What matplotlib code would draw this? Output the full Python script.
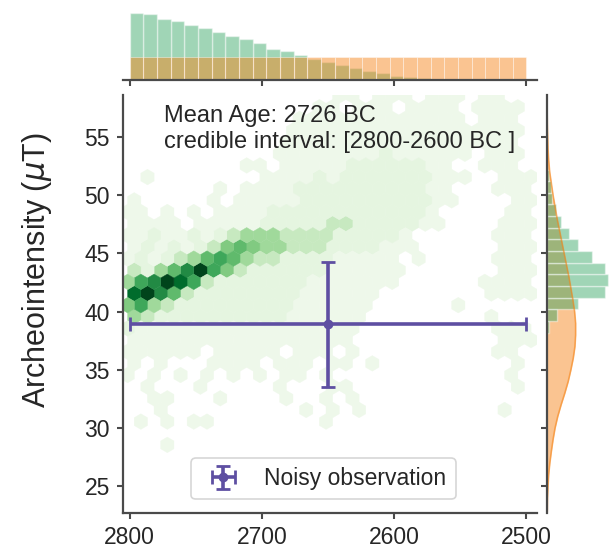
import numpy as np
import matplotlib
matplotlib.use('Agg')
import matplotlib.pyplot as plt

plt.rcParams['font.family'] = ['Liberation Sans', 'DejaVu Sans']
plt.rcParams['mathtext.fontset'] = 'dejavusans'

# --- data ---
# joint density, levels 0-9 ('.' = empty cell); rows top to bottom
# rows with odd integer part sit on years 2796.5, 2786.5 ... 2496.5
# rows with even integer part sit on years 2801.5, 2791.5 ... 2501.5
hex_rows = [
    (58.55, "..... ..... ..... .00.0 00.00 0.00. ."),
    (57.55, "..... ..... ....0 0.000 .0000 .0000 ."),
    (56.55, "..... ..... ...00 00000 00000 0.000 ."),
    (55.55, "..... ..... ..000 00000 00000 00000 ."),
    (54.55, "..... ..... ..000 00000 00000 00000 ."),
    (53.55, "..... ..... .0000 00001 00000 0.000 ."),
    (52.55, "..... ....0 0.000 00111 11100 ..000 ."),
    (51.55, ".0... ..... 00001 01111 11100 0..00 0"),
    (50.55, "..... ..0.0 00011 11111 11100 ...00 0"),
    (49.55, "0.... .0.00 00011 11111 11100 ....0 0"),
    (48.55, "00.0. 0.000 01111 11111 1110. ....0 0"),
    (47.55, "0000. 00000 11111 22111 1100. ...00 0"),
    (46.55, "00100 10123 33222 21111 10... ...00 0"),
    (45.55, "01010 12454 33222 11110 00... ...00 0"),
    (44.55, "01012 35653 22111 10000 0.0.. ...00 0"),
    (43.55, "21357 96421 11111 00000 0.... ...00 0"),
    (42.55, "36798 62111 11110 00000 0.... ..000 0"),
    (41.55, "89752 11111 11100 0000. ..... ..000 0"),
    (40.55, "46321 11111 11100 0000. ..... 0.... ."),
    (39.55, "32111 11111 11000 000.. ..... ..0.. ."),
    (38.55, "10000 00000 00000 000.. ..... ...00 0"),
    (37.55, "00000 00000 00000 00... ..... ...00 0"),
    (36.55, "00000 0.000 00.00 0.0.. ..... ...00 ."),
    (35.55, "0.0.. .0000 .000. 00.0. ..... ....0 ."),
    (34.55, "0.0.0 .0.0. 0.00. 0.... ..... ....0 ."),
    (33.55, ".0... 0.... .0... 00... ..... ....0 ."),
    (32.55, "..00. ..0.. ..0.. 0.0.. ..... ..... ."),
    (31.55, "..0.. ..... ...0. 0.0.. ..... ...0. ."),
    (30.55, ".0.0. 00... ..... 0.... ..... ..... ."),
    (28.55, "...0. ..... ..... ..... ..... ..... ."),
]
years_odd_rows = [2796.5 - 10 * k for k in range(31)]
years_even_rows = [2801.5 - 10 * k for k in range(31)]
level_counts = [1, 2, 4, 6, 7.4, 8.8, 10.2, 12, 14, 16]

# marginal of age (green = posterior, orange = uniform prior), 29 bins 2800-2500
age_counts = [201, 197, 183, 176, 165, 155, 143, 132, 122, 110, 92, 86, 75, 63,
              54, 45, 35, 26, 20, 11, 9, 5, 2, 0, 0, 0, 0, 0, 2]
prior_counts = [68] * 29

# marginal of intensity, 1 uT bins from 38.2 to 52.2
int_counts = [5, 30, 93, 171, 180, 173, 133, 93, 66, 41, 28, 16, 11, 6]
# density of the noisy observation
obs_int = [22.7, 23, 24, 25, 26, 27, 28, 29, 30, 31, 32, 33, 34, 35, 36, 37, 38,
           39, 40, 41, 42, 43, 44, 45, 46, 47, 48, 49, 50, 51, 52, 53, 54, 55,
           56, 57, 58.6]
obs_dens = [0.6, 1, 1.5, 3, 5, 8.5, 13, 18, 24, 32, 42, 53, 63, 71, 78, 83, 85,
            85, 82, 77, 71, 65, 58, 51, 44, 37, 30, 24, 18, 13, 8, 5, 3, 2,
            1, 0.5, 0.3]

obs_age, obs_age_err = 2650, 150
obs_int_mean, obs_int_err = 38.9, 5.4

# --- build ---
hx, hy, hc = [], [], []
for v, row in hex_rows:
    row = row.replace(' ', '')
    years = years_odd_rows if int(v) % 2 == 1 else years_even_rows
    for yr, ch in zip(years, row):
        if ch != '.':
            hx.append(yr)
            hy.append(v)
            hc.append(level_counts[int(ch)])

W, H = 609, 559
fig = plt.figure(figsize=(W / 100, H / 100), dpi=100)
ax = fig.add_axes([123 / W, 46 / H, 414 / W, 418 / H])
ax_top = fig.add_axes([123 / W, (H - 80) / H, 414 / W, 70 / H], sharex=ax)
ax_right = fig.add_axes([547 / W, 46 / H, 62 / W, 418 / H], sharey=ax)

spine_c = '#4a4a4a'
purple = '#5e4fa2'
green = '#2ca25f'
orange = '#f5851a'

ax.hexbin(hx, hy, C=hc, gridsize=(31, 19), extent=(2496.5, 2806.5, 21.55, 59.55),
          reduce_C_function=np.mean, cmap='Greens', vmin=0, vmax=16,
          linewidths=0.3, edgecolors='face')

ax.errorbar(obs_age, obs_int_mean, xerr=obs_age_err, yerr=obs_int_err,
            fmt='o', color=purple, ms=6, elinewidth=2.6, capsize=5, capthick=2,
            label='Noisy observation')

ax.text(0.1, 0.975, 'Mean Age: 2726 BC\ncredible interval: [2800-2600 BC ]',
        transform=ax.transAxes, ha='left', va='top', fontsize=17,
        color='#262626', linespacing=1.2)

leg = ax.legend(loc='lower center', bbox_to_anchor=(0.484, 0.0), fontsize=16.5,
                frameon=True, fancybox=True, borderaxespad=0.6)
leg.get_frame().set_edgecolor('#cccccc')
leg.get_frame().set_linewidth(1.2)
for t in leg.get_texts():
    t.set_color('#262626')

ax.set_xlim(2805, 2492)
ax.set_ylim(22.7, 58.6)
ax.set_xticks([2800, 2700, 2600, 2500])
ax.set_yticks([25, 30, 35, 40, 45, 50, 55])
ax.set_ylabel(r'Archeointensity ($\mu$T)', fontsize=22, color='#262626')
ax.yaxis.set_label_coords(-0.167, 0.58)

# top marginal
age_edges = np.linspace(2500, 2800, 30)
ax_top.hist(age_edges[:-1], bins=age_edges, weights=age_counts[::-1], color=green,
            alpha=0.45, edgecolor='white', linewidth=1)
ax_top.hist(age_edges[:-1], bins=age_edges, weights=prior_counts, color=orange,
            alpha=0.48, edgecolor='white', linewidth=0.6)
ax_top.set_ylim(0, 210)

# right marginal
int_edges = np.arange(38.2, 52.3, 1.0)
ax_right.fill_betweenx(obs_int, 0, obs_dens, color=orange, alpha=0.48, lw=0)
ax_right.plot(obs_dens, obs_int, color=orange, alpha=0.6, lw=1.2)
ax_right.hist(int_edges[:-1], bins=int_edges, weights=int_counts,
              orientation='horizontal', color=green, alpha=0.45,
              edgecolor='white', linewidth=1)
ax_right.set_xlim(0, 184)

for a in (ax, ax_top, ax_right):
    for s in a.spines.values():
        s.set_color(spine_c)
        s.set_linewidth(1.6)
    a.tick_params(colors=spine_c, labelcolor='#262626', labelsize=16.5,
                  length=4.5, width=1.5)
for s in ('top', 'right'):
    ax.spines[s].set_visible(False)
for s in ('top', 'right', 'left'):
    ax_top.spines[s].set_visible(False)
for s in ('top', 'right', 'bottom'):
    ax_right.spines[s].set_visible(False)
ax.tick_params(axis='x', pad=4.5)
ax.tick_params(axis='y', pad=5)
ax_top.tick_params(left=False, labelleft=False, labelbottom=False)
ax_right.tick_params(bottom=False, labelbottom=False, labelleft=False)

fig.savefig('out.png', dpi=100)
